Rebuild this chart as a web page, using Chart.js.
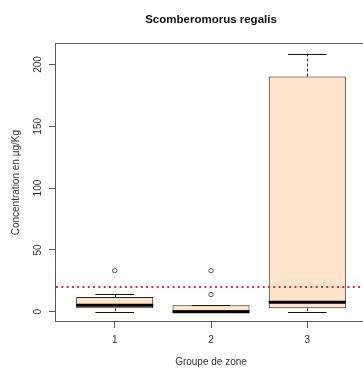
<!DOCTYPE html>
<html>
<head>
<meta charset="utf-8">
<title>Scomberomorus regalis</title>
<script src="https://cdn.jsdelivr.net/npm/chart.js@4.4.1/dist/chart.umd.min.js"></script>
<style>
  html, body { margin: 0; padding: 0; background: #ffffff; overflow: hidden; }
  #wrap { width: 363px; height: 368px; overflow: hidden; position: relative; }
  canvas { display: block; }
</style>
</head>
<body>
<div id="wrap"><canvas id="chart" width="372" height="368"></canvas></div>
<script>
// Zone groups and the five-number summaries of the concentrations (µg/Kg)
const zones = ['1', '2', '3'];
const lowerWhisker  = [0,    0,   0];
const firstQuartile = [2.7,  0,   2.7];
const medians       = [5.3,  0,   7.7];
const thirdQuartile = [11.8, 5.2, 190.3];
const upperWhisker  = [13.9, 5.2, 208.8];
const outliers      = [[33.2], [13.9, 33.2], []];
const threshold = 20;
const yTicks = [0, 50, 100, 150, 200];

const FONT = "'Liberation Sans', Arial, Helvetica, sans-serif";

// Axis ranges: one unit around the groups plus a 4% margin on each side
const xLo = 0.5, xHi = zones.length + 0.5;
const xPad = 0.04 * (xHi - xLo);
const allValues = lowerWhisker.concat(upperWhisker, ...outliers);
const yLoData = Math.min(...allValues), yHiData = Math.max(...allValues);
const yPad = 0.04 * (yHiData - yLoData);

const boxData = zones.map((z, i) => ({ x: i + 1, y: [firstQuartile[i], thirdQuartile[i]] }));
const outlierData = [];
outliers.forEach((list, i) => list.forEach(v => outlierData.push({ x: i + 1, y: v })));

// Whiskers, caps, medians, the threshold line and the frame
const boxplotExtras = {
  id: 'boxplotExtras',
  beforeDatasetsDraw(chart) {
    const { ctx, scales: { x, y } } = chart;
    const meta = chart.getDatasetMeta(0);
    ctx.save();
    meta.data.forEach((bar, i) => {
      const cx = x.getPixelForValue(i + 1);
      const half = bar.width / 4;
      const yQ1 = y.getPixelForValue(firstQuartile[i]);
      const yQ3 = y.getPixelForValue(thirdQuartile[i]);
      const yLo = y.getPixelForValue(lowerWhisker[i]);
      const yHi = y.getPixelForValue(upperWhisker[i]);
      ctx.lineWidth = 1;
      ctx.strokeStyle = '#333';
      ctx.setLineDash([3, 2]);
      ctx.beginPath();
      ctx.moveTo(Math.round(cx) + 0.5, yQ3); ctx.lineTo(Math.round(cx) + 0.5, yHi);
      ctx.moveTo(Math.round(cx) + 0.5, yQ1); ctx.lineTo(Math.round(cx) + 0.5, yLo);
      ctx.stroke();
      ctx.setLineDash([]);
      ctx.strokeStyle = '#111';
      ctx.beginPath();
      ctx.moveTo(cx - half, Math.round(yHi) + 0.5); ctx.lineTo(cx + half, Math.round(yHi) + 0.5);
      ctx.moveTo(cx - half, Math.round(yLo) + 0.5); ctx.lineTo(cx + half, Math.round(yLo) + 0.5);
      ctx.stroke();
    });
    ctx.restore();
  },
  afterDatasetsDraw(chart) {
    const { ctx, chartArea: a, scales: { x, y } } = chart;
    const meta = chart.getDatasetMeta(0);
    ctx.save();
    // medians
    ctx.strokeStyle = '#000';
    ctx.lineWidth = 3;
    meta.data.forEach((bar, i) => {
      const ym = y.getPixelForValue(medians[i]);
      ctx.beginPath();
      ctx.moveTo(bar.x - bar.width / 2, ym);
      ctx.lineTo(bar.x + bar.width / 2, ym);
      ctx.stroke();
    });
    // threshold
    const yt = y.getPixelForValue(threshold);
    ctx.strokeStyle = '#d0313f';
    ctx.lineWidth = 2;
    ctx.setLineDash([2, 3.3]);
    ctx.beginPath();
    ctx.moveTo(a.left + 1, yt);
    ctx.lineTo(a.right, yt);
    ctx.stroke();
    ctx.setLineDash([]);
    // frame
    ctx.strokeStyle = '#5a5a5a';
    ctx.lineWidth = 1;
    ctx.strokeRect(Math.round(a.left) + 0.5, Math.round(a.top) + 0.5,
                   Math.round(a.right - a.left), Math.round(a.bottom - a.top) - 1);
    ctx.restore();
  }
};

new Chart(document.getElementById('chart'), {
  type: 'bar',
  data: {
    datasets: [
      {
        type: 'bar',
        data: boxData,
        backgroundColor: '#fde4cb',
        borderColor: '#222',
        borderWidth: 1,
        borderSkipped: false,
        barPercentage: 0.8,
        categoryPercentage: 1,
        order: 2
      },
      {
        type: 'scatter',
        data: outlierData,
        pointStyle: 'circle',
        pointRadius: 2.2,
        pointBorderWidth: 1,
        pointBorderColor: '#555',
        pointBackgroundColor: 'rgba(0,0,0,0)',
        order: 1
      }
    ]
  },
  options: {
    responsive: false,
    animation: false,
    devicePixelRatio: 1,
    layout: { padding: { left: 0, right: 3, top: 0, bottom: 0 } },
    plugins: {
      legend: { display: false },
      tooltip: { enabled: false },
      title: {
        display: true,
        text: 'Scomberomorus regalis',
        fullSize: false,
        color: '#111',
        font: { family: FONT, size: 11.5, weight: 'bold', lineHeight: 1.2 },
        padding: { top: 13.4, bottom: 16.1 }
      }
    },
    scales: {
      x: {
        type: 'linear',
        min: xLo - xPad,
        max: xHi + xPad,
        offset: false,
        afterBuildTicks: s => { s.ticks = zones.map((z, i) => ({ value: i + 1 })); },
        afterFit: s => { s.height = 46; },
        ticks: {
          callback: v => zones[v - 1],
          color: '#333',
          font: { family: FONT, size: 10, lineHeight: 1.2 },
          padding: 6,
          maxRotation: 0
        },
        grid: { offset: false, drawOnChartArea: false, drawTicks: true, tickLength: 6, tickColor: '#5a5a5a' },
        border: { display: false },
        title: {
          display: true,
          text: 'Groupe de zone',
          color: '#333',
          font: { family: FONT, size: 10, lineHeight: 1.2 },
          padding: { top: 0, bottom: 0 }
        }
      },
      y: {
        min: yLoData - yPad,
        max: yHiData + yPad,
        afterBuildTicks: s => { s.ticks = yTicks.map(v => ({ value: v })); },
        afterFit: s => { s.width = 55; },
        ticks: {
          minRotation: 90,
          maxRotation: 90,
          crossAlign: 'center',
          color: '#333',
          font: { family: FONT, size: 10, lineHeight: 1.2 },
          padding: 2
        },
        grid: { drawOnChartArea: false, drawTicks: true, tickLength: 6, tickColor: '#5a5a5a' },
        border: { display: false },
        title: {
          display: true,
          text: 'Concentration en µg/Kg',
          color: '#333',
          font: { family: FONT, size: 10, lineHeight: 1.2 },
          padding: { top: 10, bottom: 0 }
        }
      }
    }
  },
  plugins: [boxplotExtras]
});
</script>
</body>
</html>
